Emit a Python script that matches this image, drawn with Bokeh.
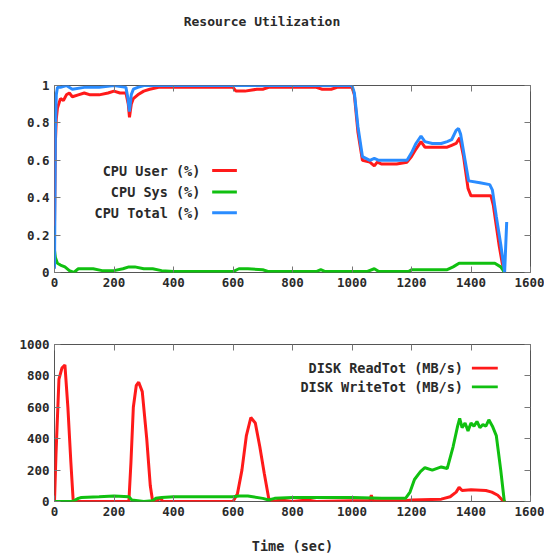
from bokeh.plotting import figure
from bokeh.layouts import column
from bokeh.models import (Range1d, FixedTicker, LinearAxis, Label, BoxAnnotation,
                          NumeralTickFormatter, Div)
from bokeh.embed import file_html
from bokeh.resources import INLINE

# ---------------- data ----------------
cpu_user_t = [0, 3, 6, 10, 20, 30, 40, 50, 60, 80, 100, 120, 150, 180, 200, 220, 240, 248, 252, 258,
              265, 280, 300, 320, 350, 400, 500, 600, 610, 640, 680, 700, 720, 800, 880, 900, 930,
              950, 1000, 1008, 1020, 1035, 1060, 1075, 1085, 1100, 1150, 1185, 1200, 1215, 1232,
              1245, 1270, 1300, 1320, 1335, 1350, 1362, 1375, 1390, 1400, 1430, 1467, 1475, 1485,
              1495, 1505, 1513]
cpu_user_v = [0.25, 0.7, 0.82, 0.88, 0.93, 0.92, 0.95, 0.96, 0.94, 0.95, 0.96, 0.95, 0.95, 0.96,
              0.97, 0.96, 0.96, 0.90, 0.83, 0.90, 0.93, 0.95, 0.97, 0.98, 0.99, 0.99, 0.99, 0.99,
              0.97, 0.97, 0.98, 0.98, 0.99, 0.99, 0.99, 0.98, 0.98, 0.99, 0.99, 0.95, 0.75, 0.60,
              0.59, 0.57, 0.59, 0.58, 0.58, 0.59, 0.62, 0.66, 0.70, 0.67, 0.67, 0.67, 0.67, 0.68,
              0.69, 0.72, 0.62, 0.45, 0.41, 0.41, 0.41, 0.36, 0.25, 0.14, 0.05, 0.0]

cpu_sys_t = [0, 3, 10, 20, 35, 50, 65, 80, 100, 130, 160, 200, 230, 250, 270, 300, 330, 360, 400,
             600, 620, 650, 700, 720, 880, 895, 910, 1000, 1050, 1075, 1090, 1110, 1190, 1200,
             1320, 1340, 1360, 1400, 1480, 1500, 1513]
cpu_sys_v = [0.12, 0.08, 0.05, 0.04, 0.03, 0.01, 0.0, 0.02, 0.02, 0.02, 0.01, 0.01, 0.02, 0.03,
             0.03, 0.02, 0.02, 0.01, 0.005, 0.005, 0.02, 0.02, 0.015, 0.005, 0.005, 0.015, 0.005,
             0.005, 0.005, 0.02, 0.005, 0.005, 0.005, 0.015, 0.015, 0.03, 0.05, 0.05, 0.05, 0.03,
             0.0]

cpu_total_t = [0, 3, 6, 10, 20, 40, 60, 100, 150, 200, 240, 247, 252, 258, 265, 280, 300, 1000,
               1008, 1020, 1035, 1060, 1075, 1090, 1150, 1185, 1200, 1215, 1232, 1245, 1270, 1300,
               1320, 1335, 1350, 1358, 1365, 1380, 1392, 1430, 1463, 1472, 1485, 1500, 1513, 1520]
cpu_total_v = [0.02, 0.75, 0.95, 0.99, 0.99, 1.0, 0.98, 0.99, 0.99, 1.0, 0.99, 0.93, 0.86, 0.95,
               0.98, 0.99, 1.0, 1.0, 0.96, 0.78, 0.62, 0.60, 0.61, 0.60, 0.60, 0.60, 0.64, 0.69,
               0.73, 0.70, 0.69, 0.69, 0.70, 0.71, 0.76, 0.77, 0.74, 0.60, 0.49, 0.48, 0.47, 0.44,
               0.30, 0.15, 0.0, 0.27]

disk_read_t = [0, 5, 15, 25, 35, 45, 55, 63, 70, 250, 257, 265, 275, 283, 295, 310, 322, 330, 340,
               355, 365, 380, 600, 615, 630, 645, 660, 675, 690, 705, 720, 735, 760, 800, 850, 880,
               1000, 1060, 1065, 1070, 1180, 1200, 1300, 1330, 1350, 1360, 1370, 1400, 1450, 1470,
               1490, 1505, 1515]
disk_read_v = [0, 300, 780, 850, 870, 600, 250, 0, 0, 0, 250, 600, 740, 760, 700, 400, 100, 0, 0,
               20, 0, 0, 0, 50, 200, 420, 535, 500, 350, 180, 20, 0, 10, 0, 10, 0, 5, 5, 40, 5, 5,
               10, 15, 30, 60, 90, 70, 75, 70, 60, 40, 10, 0]

disk_write_t = [0, 60, 80, 90, 150, 200, 250, 260, 280, 300, 330, 340, 360, 400, 500, 600, 620,
                650, 700, 720, 740, 800, 900, 1000, 1100, 1180, 1195, 1210, 1230, 1245, 1270, 1300,
                1320, 1340, 1355, 1362, 1370, 1380, 1390, 1400, 1410, 1420, 1430, 1440, 1450, 1460,
                1466, 1472, 1485, 1500, 1512]
disk_write_v = [0, 0, 20, 25, 30, 35, 30, 10, 5, 0, 5, 20, 25, 30, 30, 30, 35, 35, 20, 10, 20, 25,
                25, 25, 20, 20, 60, 140, 190, 215, 200, 220, 210, 350, 480, 530, 470, 500, 450,
                500, 480, 510, 470, 490, 480, 520, 500, 480, 420, 200, 0]

x_ticks = [0, 200, 400, 600, 800, 1000, 1200, 1400, 1600]
cpu_ticks = [0, 0.2, 0.4, 0.6, 0.8, 1.0]
disk_ticks = [0, 200, 400, 600, 800, 1000]

title_text = "Resource Utilization"
cpu_labels = ["CPU User (%)", "CPU Sys (%)", "CPU Total (%)"]
disk_labels = ["DISK ReadTot (MB/s)", "DISK WriteTot (MB/s)"]

RED = "#ff1a1a"
GREEN = "#10c010"
BLUE = "#2a8cff"
FONT = "DejaVu Sans Mono"
TXT = "#2a2a2a"
TICK_FS = "12.5px"
LEG_FS = "13.5px"


def mirror_axis(ticks):
    return LinearAxis(ticker=FixedTicker(ticks=ticks), major_label_text_color=None,
                      major_label_text_font_size="1px", axis_line_color=None,
                      major_tick_in=6, major_tick_out=0, minor_tick_line_color=None,
                      major_tick_line_color="#777777", major_label_standoff=0)


def style(p, yticks):
    p.xgrid.visible = False
    p.ygrid.visible = False
    p.outline_line_color = "#555555"
    p.outline_line_width = 1
    p.background_fill_color = "white"
    p.border_fill_color = "white"
    for ax in p.below + p.left:
        ax.axis_line_color = None
        ax.major_tick_in = 6
        ax.major_tick_out = 0
        ax.minor_tick_line_color = None
        ax.major_tick_line_color = "#777777"
        ax.major_label_text_font = FONT
        ax.major_label_text_font_size = TICK_FS
        ax.major_label_text_color = TXT
        ax.major_label_text_font_style = "bold"
    p.below[0].ticker = FixedTicker(ticks=x_ticks)
    p.left[0].ticker = FixedTicker(ticks=yticks)
    p.add_layout(mirror_axis(x_ticks), "above")
    p.add_layout(mirror_axis(yticks), "right")


# ---------------- title ----------------
title_div = Div(
    text=(f'<div style="display:block; width:524px; text-align:center; padding-top:14px; '
          f'font-family:\'{FONT}\'; font-size:13px; line-height:16px; font-weight:bold; '
          f'color:{TXT};">{title_text}</div>'),
    width=524, height=36, margin=0,
    styles={"text-align": "center"})

# ---------------- top figure ----------------
p1 = figure(width=544, height=272, output_backend="svg", toolbar_location=None,
            x_range=Range1d(0, 1600), y_range=Range1d(0, 1),
            min_border_left=54, min_border_right=14, min_border_top=49, min_border_bottom=36)
style(p1, cpu_ticks)
p1.left[0].formatter = NumeralTickFormatter(format="0.[0]")

p1.line(cpu_user_t, cpu_user_v, line_color=RED, line_width=3)
p1.line(cpu_sys_t, cpu_sys_v, line_color=GREEN, line_width=3)
p1.line(cpu_total_t, cpu_total_v, line_color=BLUE, line_width=3)

cpu_leg_y = [0.545, 0.43, 0.32]
for lab, col, yy in zip(cpu_labels, [RED, GREEN, BLUE], cpu_leg_y):
    p1.add_layout(Label(x=490, y=yy, text=lab, text_align="right", text_baseline="middle",
                        text_font=FONT, text_font_size=LEG_FS, text_font_style="bold",
                        text_color=TXT))
    p1.add_layout(BoxAnnotation(left=530, right=613, bottom=yy - 0.008, top=yy + 0.008,
                                fill_color=col, fill_alpha=1, line_color=None))

# ---------------- bottom figure ----------------
p2 = figure(width=544, height=248, output_backend="svg", toolbar_location=None,
            x_range=Range1d(0, 1600), y_range=Range1d(0, 1000),
            min_border_left=54, min_border_right=14, min_border_top=36, min_border_bottom=53)
style(p2, disk_ticks)
xa = p2.below[0]
xa.axis_label = "Time (sec)"
xa.axis_label_text_font = FONT
xa.axis_label_text_font_size = LEG_FS
xa.axis_label_text_font_style = "bold"
xa.axis_label_text_color = TXT
xa.axis_label_standoff = 19

p2.line(disk_read_t, disk_read_v, line_color=RED, line_width=3)
p2.line(disk_write_t, disk_write_v, line_color=GREEN, line_width=3)

disk_leg_y = [849, 730]
for lab, col, yy in zip(disk_labels, [RED, GREEN], disk_leg_y):
    p2.add_layout(Label(x=1373, y=yy, text=lab, text_align="right", text_baseline="middle",
                        text_font=FONT, text_font_size=LEG_FS, text_font_style="bold",
                        text_color=TXT))
    p2.add_layout(BoxAnnotation(left=1403, right=1490, bottom=yy - 9, top=yy + 9,
                                fill_color=col, fill_alpha=1, line_color=None))

layout = column(title_div, p1, p2, spacing=0)
open("out.html", "w").write(file_html(layout, INLINE))
